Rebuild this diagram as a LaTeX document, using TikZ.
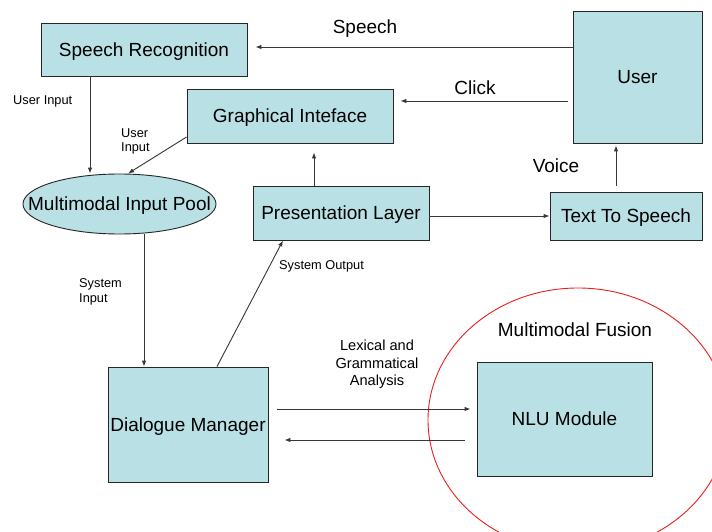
\documentclass[tikz,border=0pt]{standalone}
\usepackage{fontspec}
\setmainfont{Liberation Sans}
\usetikzlibrary{arrows.meta,shapes.geometric}
\definecolor{boxfill}{RGB}{185,224,228}
\definecolor{linegray}{RGB}{55,55,55}
\definecolor{fusionred}{RGB}{235,30,30}
\begin{document}
\begin{tikzpicture}[x=1pt,y=-1pt,
  box/.style={draw=black!85, fill=boxfill, line width=0.9pt, inner sep=0pt, text height=13.7pt, text depth=0pt, font=\fontsize{19}{22}\selectfont},
  conn/.style={draw=linegray, line width=0.9pt, -{Latex[length=6pt,width=4.5pt]}},
  big/.style={inner sep=0pt, text height=13.7pt, text depth=0pt, font=\fontsize{19}{22}\selectfont},
  small/.style={inner sep=0pt, font=\fontsize{12.8}{14.5}\selectfont, align=left},
  mid/.style={inner sep=0pt, font=\fontsize{14.6}{17.5}\selectfont, align=center},
]
\fill[white, use as bounding box] (0,0) rectangle (712,532);
% red fusion ellipse
\begin{scope}
  \clip (0,0) rectangle (712,532);
  \draw[fusionred, line width=0.9pt] (578,420) ellipse [x radius=150pt, y radius=132pt];
\end{scope}
% boxes
\node[box, minimum width=206pt, minimum height=53pt] (sr) at (144,49.5) {Speech Recognition};
\node[box, minimum width=206pt, minimum height=54pt] (gi) at (290,116) {Graphical Inteface};
\node[box, minimum width=129pt, minimum height=132pt] (user) at (637.5,77) {User};
\node[box, minimum width=176pt, minimum height=54pt] (pl) at (341,213) {Presentation Layer};
\node[box, minimum width=152pt, minimum height=48pt] (tts) at (626,216) {Text To Speech};
\node[box, ellipse, minimum width=193pt, minimum height=60pt] (mip) at (119.5,204) {};
\node[big] (mipl) at (mip.center) {Multimodal Input Pool};
\node[box, minimum width=160pt, minimum height=115pt] (dm) at (188,424.5) {Dialogue Manager};
\node[box, minimum width=175pt, minimum height=114pt] (nlu) at (564.5,419) {NLU Module};
% connectors
\draw[conn, shorten >=8pt] (user.west |- 0,47) -- (sr.east |- 0,47);
\draw[conn, shorten <=5pt, shorten >=7pt] (user.west |- 0,101) -- (gi.east |- 0,101);
\draw[conn, shorten >=9pt] (pl.north -| 314,0) -- (gi.south -| 314,0);
\draw[conn, shorten <=6pt, shorten >=2pt] (tts.north -| 616,0) -- (user.south -| 616,0);
\draw[conn] (pl.east |- 0,216) -- (tts.west |- 0,216);
\draw[conn] (sr.south -| 90,0) -- (mip.north -| 90,0);
\draw[conn] (gi.west |- 0,137) -- (mip.north -| 128,0);
\draw[conn] (mip.south -| 144,0) -- (dm.north -| 144,0);
\draw[conn] (dm.north -| 217,0) -- (pl.south -| 283,0);
\draw[conn, shorten <=9pt, shorten >=6pt] (dm.east |- 0,409) -- (nlu.west |- 0,409);
\draw[conn, shorten <=12pt, shorten >=16pt] (nlu.west |- 0,440) -- (dm.east |- 0,440);
% labels
\node[big] (lspeech) at (365,27) {Speech};
\node[big] (lclick) at (475,87.5) {Click};
\node[big] (lvoice) at (556,166) {Voice};
\node[big] (lfusion) at (575,330) {Multimodal Fusion};
\node[small, anchor=west] (lui1) at (13,101.5) {User Input};
\node[small, anchor=west] (lui2) at (121,141.5) {User\\Input};
\node[small, anchor=west] (lsi) at (79,292) {System\\Input};
\node[small, anchor=west] (lso) at (279,266) {System Output};
\node[mid] (llex) at (377,364.5) {Lexical and\\Grammatical\\Analysis};
\end{tikzpicture}
\end{document}
